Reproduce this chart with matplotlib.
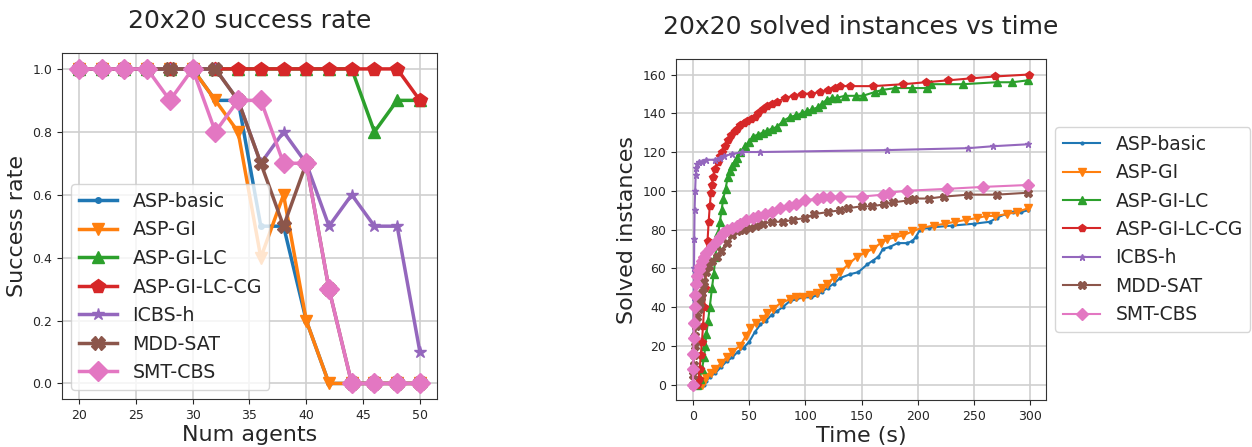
''' success rate and solved instances plots for 20x20 grid
'''
import matplotlib
import matplotlib.pyplot as plt

matplotlib.use('Agg')

TEXT_COLOR = '#262626'
plt.rcParams['font.family'] = ['DejaVu Sans']
plt.rcParams['text.color'] = TEXT_COLOR
plt.rcParams['axes.labelcolor'] = TEXT_COLOR
plt.rcParams['xtick.color'] = TEXT_COLOR
plt.rcParams['ytick.color'] = TEXT_COLOR
plt.rcParams['axes.edgecolor'] = '#333333'
plt.rcParams['grid.color'] = '#cfcfcf'
plt.rcParams['grid.linewidth'] = 1.2

LABELS = ['ASP-basic', 'ASP-GI', 'ASP-GI-LC', 'ASP-GI-LC-CG', 'ICBS-h', 'MDD-SAT', 'SMT-CBS']
MARKERS = ['.', 'v', '^', 'p', '*', 'X', 'D']
COLORS = ['tab:blue', 'tab:orange', 'tab:green', 'tab:red', 'tab:purple', 'tab:brown', 'tab:pink']

# success rate per number of agents
num_agents = [20, 22, 24, 26, 28, 30, 32, 34, 36, 38, 40, 42, 44, 46, 48, 50]
sr_asp_basic = [1, 1, 1, 1, 1, 1, 0.9, 0.9, 0.5, 0.5, 0.2, 0, 0, 0, 0, 0]
sr_asp_gi = [1, 1, 1, 1, 1, 1, 0.9, 0.8, 0.4, 0.6, 0.2, 0, 0, 0, 0, 0]
sr_asp_gi_lc = [1, 1, 1, 1, 1, 1, 1, 1, 1, 1, 1, 1, 1, 0.8, 0.9, 0.9]
sr_asp_gi_lc_cg = [1, 1, 1, 1, 1, 1, 1, 1, 1, 1, 1, 1, 1, 1, 1, 0.9]
sr_icbs_h = [1, 1, 1, 1, 1, 1, 1, 0.9, 0.7, 0.8, 0.7, 0.5, 0.6, 0.5, 0.5, 0.1]
sr_mdd_sat = [1, 1, 1, 1, 1, 1, 1, 0.9, 0.7, 0.5, 0.7, 0.3, 0, 0, 0, 0]
sr_smt_cbs = [1, 1, 1, 1, 0.9, 1, 0.8, 0.9, 0.9, 0.7, 0.7, 0.3, 0, 0, 0, 0]

# solved instances vs time (s)
t_asp_basic = [10, 12, 15, 20, 25, 30, 35, 40, 45, 50, 55, 60, 65, 70, 75, 80, 86, 92, 98,
               105, 110, 115, 120, 125, 131, 140, 147, 155, 160, 165, 169, 175, 182, 190,
               195, 198, 202, 210, 230, 250, 264, 270, 278, 285, 292, 298]
n_asp_basic = [0, 2, 4, 6, 9, 12, 14, 17, 19, 22, 27, 31, 33, 36, 38, 40, 43, 44, 45,
               45, 46, 48, 50, 52, 55, 57, 58, 62, 64, 66, 70, 71, 73, 73,
               74, 76, 80, 81, 82, 83, 84, 86, 88, 89, 89, 90]
t_asp_gi = [8, 10, 12, 16, 20, 25, 30, 35, 42, 47, 51, 56, 62, 66, 71, 78, 86, 92, 98, 104,
            110, 115, 119, 125, 131, 138, 146, 153, 160, 167, 173, 180, 187, 195, 204, 214,
            224, 233, 243, 253, 261, 269, 279, 288, 298]
n_asp_gi = [0, 2, 4, 6, 8, 11, 14, 17, 20, 25, 29, 32, 34, 37, 39, 42, 44, 45, 45, 46,
            47, 50, 52, 55, 58, 62, 66, 68, 70, 73, 75, 76, 77, 79, 81, 82,
            83, 84, 85, 86, 87, 87, 88, 89, 91]
t_asp_gi_lc = [4, 6, 8, 10, 11, 12, 13.5, 15, 17, 18.5, 20, 21, 22.5, 24, 25.5, 27, 29, 31,
               33, 35, 37, 39, 42, 46, 50, 53, 58, 62, 66, 70, 75, 80, 86, 92, 97, 101, 106,
               111, 115, 119, 124, 128, 135, 145, 151, 162, 168, 180, 195, 208, 212, 240,
               270, 284, 298]
n_asp_gi_lc = [0, 3, 8, 14, 20, 26, 33, 40, 50, 57, 66, 72, 78, 84, 90, 96, 101, 107,
               110, 113, 115, 117, 120, 123, 125, 128, 129, 130, 131, 132, 133, 136, 138, 139,
               140, 141, 142, 143, 145, 147, 148, 148, 149, 149, 149, 151, 152, 153, 153, 153,
               155, 155, 156, 156, 157]
t_asp_gi_lc_cg = [4, 5, 6, 7, 8, 9, 10, 11, 12, 13, 14, 15, 16, 17, 18, 20, 22, 24, 26, 28.5,
                  31, 34, 37, 39, 42, 45, 48, 52, 55, 58, 62, 66, 70, 75, 82, 90, 97, 105, 113,
                  120, 126, 131, 140, 160, 187, 207, 227, 247, 269, 299]
n_asp_gi_lc_cg = [0, 3, 8, 15, 22, 30, 40, 50, 62, 74, 84, 92, 99, 103, 107, 111, 115, 118,
                  120, 123, 126, 129, 131, 132, 134, 135, 136, 137, 138, 140, 142, 144, 145,
                  146, 148, 149, 150, 150, 151, 152, 153, 154, 154, 154, 155, 156, 157, 158,
                  159, 160]
t_icbs_h = [0, 0.3, 0.5, 0.8, 1, 1.2, 1.5, 2, 2.5, 3, 4, 5, 8, 12, 20, 24, 28, 35, 44, 60,
            173, 245, 267, 298]
n_icbs_h = [0, 10, 25, 45, 60, 75, 90, 100, 108, 112, 114, 115, 115, 116, 116, 117, 118, 119,
            120, 120, 121, 122, 123, 124]
t_mdd_sat = [0, 0.3, 0.6, 1, 1.5, 2, 3, 4, 5, 6, 7, 8, 9, 10, 12, 14, 17, 21, 25, 30, 35, 39,
             45, 51, 56, 62, 70, 80, 89, 100, 108, 120, 131, 138, 150, 159, 170, 178, 191,
             197, 210, 223, 245, 270, 298]
n_mdd_sat = [0, 5, 10, 15, 20, 25, 30, 35, 39, 42, 45, 47, 50, 53, 58, 61, 64, 66, 69, 73,
             77, 79, 80, 81, 82, 83, 84, 84, 85, 86, 88, 89, 90, 91, 92, 92, 93, 94, 95, 96,
             96, 97, 98, 98, 99]
t_smt_cbs = [0, 0.2, 0.4, 0.7, 1, 1.5, 2, 3, 4, 5, 6, 8, 10, 12, 15, 18, 21, 24, 27, 30, 35,
             39, 42, 47, 53, 58, 64, 70, 77, 85, 92, 100, 110, 116, 122, 131, 150, 169, 174,
             190, 226, 258, 298]
n_smt_cbs = [0, 8, 16, 24, 32, 40, 46, 52, 56, 59, 61, 64, 66, 68, 70, 72, 74, 76, 78, 80,
             81, 82, 83, 85, 86, 87, 88, 89, 91, 92, 93, 95, 96, 97, 97, 97, 97, 98, 99,
             100, 101, 102, 103]

success_rates = [sr_asp_basic, sr_asp_gi, sr_asp_gi_lc, sr_asp_gi_lc_cg,
                 sr_icbs_h, sr_mdd_sat, sr_smt_cbs]
time_series = [t_asp_basic, t_asp_gi, t_asp_gi_lc, t_asp_gi_lc_cg, t_icbs_h, t_mdd_sat, t_smt_cbs]
solved_series = [n_asp_basic, n_asp_gi, n_asp_gi_lc, n_asp_gi_lc_cg,
                 n_icbs_h, n_mdd_sat, n_smt_cbs]

fig = plt.figure(figsize=(12.52, 4.47), dpi=100)

# success rate
ax1 = fig.add_axes([0.0495, 0.107, 0.2995, 0.774])
for rate, label, marker, color in zip(success_rates, LABELS, MARKERS, COLORS):
    ms = 10 if marker in ('D', 'X', 'p') else 9
    if marker == '.':
        ms = 8
    ax1.plot(num_agents, rate, marker=marker, color=color, label=label,
             linewidth=2.5, markersize=ms)
ax1.set_title('20x20 success rate', fontsize=18, pad=18)
ax1.set_xlabel('Num agents', fontsize=16, labelpad=2)
ax1.set_ylabel('Success rate', fontsize=16)
ax1.set_xticks([20, 25, 30, 35, 40, 45, 50])
ax1.set_yticks([0.0, 0.2, 0.4, 0.6, 0.8, 1.0])
ax1.tick_params(labelsize=9)
ax1.grid(True)
ax1.legend(loc='lower left', fontsize=13.7)

# solved instances vs time
ax2 = fig.add_axes([0.540, 0.105, 0.2955, 0.763])
for times, solved, label, marker, color in zip(time_series, solved_series, LABELS,
                                               MARKERS, COLORS):
    ms = 6 if marker in ('D', 'X', 'p', 'v', '^') else 5
    if marker == '.':
        ms = 4
    ax2.plot(times, solved, marker=marker, color=color, label=label,
             linewidth=1.5, markersize=ms)
ax2.set_title('20x20 solved instances vs time', fontsize=18, pad=18)
ax2.set_xlabel('Time (s)', fontsize=16, labelpad=2)
ax2.set_ylabel('Solved instances', fontsize=16)
ax2.set_xticks([0, 50, 100, 150, 200, 250, 300])
ax2.set_yticks([0, 20, 40, 60, 80, 100, 120, 140, 160])
ax2.tick_params(labelsize=9)
ax2.grid(True)
ax2.legend(loc='center left', bbox_to_anchor=(1.0, 0.5), fontsize=13.5)

fig.savefig('out.png', format='png', dpi=100)
plt.close()
